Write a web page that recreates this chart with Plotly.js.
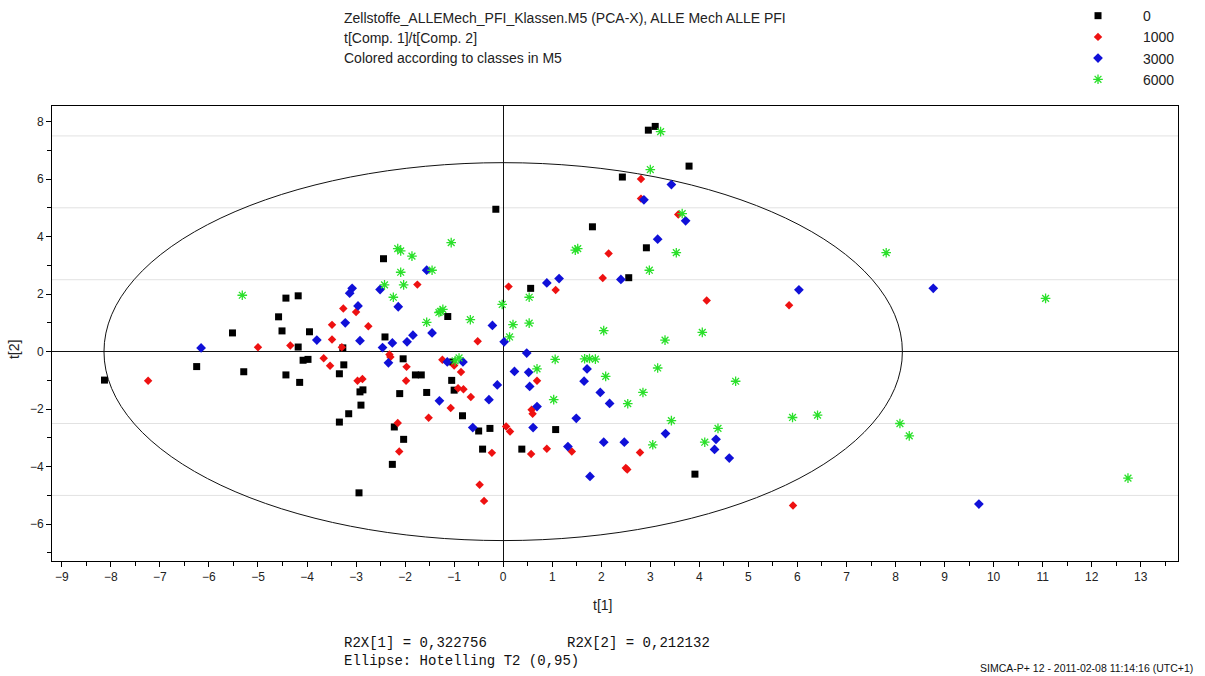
<!DOCTYPE html>
<html>
<head>
<meta charset="utf-8">
<script src="https://cdn.plot.ly/plotly-3.0.1.min.js"></script>
<style>
  html, body { margin: 0; padding: 0; background: #ffffff; }
  #chart { width: 1205px; height: 676px; }
</style>
</head>
<body>
<div id="chart"></div>
<script>
// PCA score plot t[1] vs t[2], observations grouped by PFI class

const classNames = ['0', '1000', '3000', '6000'];

// class 0
const t1_c0 = [-5.52, -4.43, -4.18, -4.58, -4.51, -3.95, -4.18, -3.27, -6.25, -5.29, -4.08, -3.98, -3.25, -4.43, -4.15, -3.34, -8.13, -3.15, -3.34, -0.15, 2.43, 1.82, -2.44, -1.13, -2.41, 0.56, 2.56, 2.96, 3.10, 3.79, 2.92, -2.04, -1.79, -1.67, -2.92, -2.86, -2.90, -2.11, -1.56, -1.03, -1.05, -1.00, -0.83, -2.22, -2.03, -2.26, -2.94, -0.50, -0.27, -0.42, 0.38, 1.07, 3.91];
const t2_c0 = [0.65, 1.86, 1.94, 1.21, 0.72, 0.69, 0.16, 0.13, -0.52, -0.70, -0.30, -0.27, -0.46, -0.81, -1.07, -0.77, -0.99, -2.16, -2.45, 4.95, 6.07, 4.34, 3.23, 1.22, 0.51, 2.20, 2.57, 7.70, 7.83, 6.45, 3.61, -0.25, -0.81, -0.81, -1.40, -1.33, -1.86, -1.46, -1.42, -0.36, -1.00, -1.34, -2.23, -2.62, -3.05, -3.92, -4.91, -2.76, -2.67, -3.39, -3.39, -2.71, -4.26];

// class 1000
const t1_c1000 = [-3.26, -3.49, -3.49, -5.00, -4.34, -3.29, -7.24, -3.66, -3.53, 2.15, -1.75, -3.00, -2.75, 0.11, 1.07, 2.03, -0.52, 2.81, 2.81, 3.57, 4.15, 5.83, -2.32, -2.30, -1.97, -1.98, -2.97, -2.87, -1.24, -1.00, -0.86, -0.92, -0.81, -0.66, -1.07, -1.52, -2.15, -2.12, -0.23, -0.48, -0.39, 0.06, 0.14, 0.57, 0.89, 1.40, 2.50, 2.53, 0.58, 0.60, 0.69, 2.79, 5.91];
const t2_c1000 = [1.50, 0.93, 0.42, 0.15, 0.21, 0.15, -1.01, -0.23, -0.49, 3.41, 2.33, 1.38, 0.88, 2.26, 2.14, 2.56, 0.36, 6.00, 5.32, 4.77, 1.78, 1.61, -0.10, -0.19, -0.53, -1.01, -1.01, -0.95, -0.28, -0.48, -0.71, -1.27, -1.31, -1.58, -1.96, -2.30, -2.48, -3.47, -3.52, -4.63, -5.19, -2.60, -2.78, -3.56, -3.38, -3.47, -4.05, -4.10, -2.02, -2.16, -1.01, -3.51, -5.35];

// class 3000
const t1_c3000 = [-3.08, -3.13, -3.22, -3.80, -6.16, -1.56, -2.51, -2.96, -2.14, -0.22, -1.84, -1.45, 0.89, 1.14, 2.40, -2.92, -2.26, -1.96, 0.02, -2.46, -2.34, -1.14, -0.82, -1.30, -0.29, -0.12, -0.62, 1.32, 1.77, 2.05, 2.47, 0.61, 0.69, 1.49, 1.98, 2.17, 0.23, 0.52, 0.54, 0.48, 1.71, 1.65, 3.43, 2.87, 3.72, 3.15, 6.03, 8.77, 3.31, 4.34, 4.31, 4.61, 9.70];
const t2_c3000 = [2.20, 2.03, 1.00, 0.40, 0.13, 2.83, 2.16, 1.59, 1.56, 0.91, 0.57, 0.65, 2.39, 2.54, 2.51, 0.38, 0.30, 0.34, 0.34, 0.14, -0.39, -0.36, -0.36, -1.71, -1.67, -1.16, -2.64, -3.30, -4.34, -3.15, -3.15, -2.64, -1.91, -2.32, -1.42, -1.80, -0.69, -0.72, -1.21, -0.05, -0.60, -1.03, 5.81, 5.28, 4.55, 3.91, 2.15, 2.20, -2.85, -3.05, -3.40, -3.70, -5.30];

// class 6000
const t1_c6000 = [-5.32, -1.06, -2.15, -2.09, -1.86, 1.47, 1.52, -1.45, -2.09, -2.42, -2.03, -2.24, -1.28, -1.23, -1.31, -0.67, -0.02, -1.56, 0.53, 0.20, 0.53, 0.13, 2.05, 3.21, 3.00, 3.65, 3.53, 7.81, 2.98, 4.06, 3.30, 11.06, -0.90, -0.98, 1.03, 2.54, 0.69, 1.06, 1.66, 1.76, 1.88, 2.09, 3.15, 4.74, 2.85, 3.43, 5.90, 6.41, 8.09, 8.28, 3.05, 4.38, 4.11, 12.74];
const t2_c6000 = [1.96, 3.79, 3.58, 3.50, 3.32, 3.53, 3.58, 2.83, 2.76, 2.32, 2.32, 1.89, 1.40, 1.47, 1.36, 1.11, 1.64, 1.02, 1.89, 0.94, 0.99, 0.51, 0.73, 7.65, 6.33, 4.80, 3.44, 3.44, 2.83, 0.67, 0.40, 1.85, -0.22, -0.32, -1.67, -1.81, -0.60, -0.27, -0.25, -0.24, -0.26, -0.86, -0.57, -1.03, -1.42, -2.40, -2.29, -2.21, -2.50, -2.93, -3.24, -2.67, -3.15, -4.40];

// Hotelling T2 (0.95) ellipse semi-axes in score units
const ellipseT1 = 8.14;
const ellipseT2 = 6.57;

const explained = { r2x1: '0,322756', r2x2: '0,212132' };

const markerStyles = [
  { color: '#000000', symbol: 'square', size: 7 },
  { color: '#ee1111', symbol: 'diamond', size: 6.5 },
  { color: '#1010d8', symbol: 'diamond', size: 7.5 },
  { color: '#2ae02a', symbol: 'asterisk-open', size: 8 }
];

const seriesX = [t1_c0, t1_c1000, t1_c3000, t1_c6000];
const seriesY = [t2_c0, t2_c1000, t2_c3000, t2_c6000];

const traces = classNames.map((name, i) => {
  const st = markerStyles[i];
  const marker = { color: st.color, symbol: st.symbol, size: st.size };
  marker.line = st.symbol === 'asterisk-open'
    ? { color: st.color, width: 1.3 }
    : { width: 0 };
  return {
    type: 'scatter', mode: 'markers', name: name,
    x: seriesX[i], y: seriesY[i], marker: marker,
    hoverinfo: 'x+y+name'
  };
});

const baseFont = { family: 'Liberation Sans, Arial, sans-serif', size: 12, color: '#222' };
const monoFont = { family: 'Liberation Mono, DejaVu Sans Mono, monospace', size: 14, color: '#111' };

// light horizontal reference lines every 2.5 score units
const gridLevels = [-5, -2.5, 2.5, 5, 7.5];
const shapes = gridLevels.map(v => ({
  type: 'line', layer: 'below', xref: 'paper', x0: 0, x1: 1, yref: 'y', y0: v, y1: v,
  line: { color: '#e2e2e2', width: 1 }
}));
shapes.push({
  type: 'circle', layer: 'between', xref: 'x', yref: 'y',
  x0: -ellipseT1, x1: ellipseT1, y0: -ellipseT2, y1: ellipseT2,
  line: { color: '#111', width: 1 }, fillcolor: 'rgba(0,0,0,0)'
});

function note(text, x, y, opts) {
  return Object.assign({
    text: text, xref: 'paper', yref: 'paper', x: x, y: y,
    xanchor: 'left', yanchor: 'middle', showarrow: false,
    font: Object.assign({}, baseFont, { size: 14 })
  }, opts || {});
}

const annotations = [
  note('Zellstoffe_ALLEMech_PFI_Klassen.M5 (PCA-X), ALLE Mech ALLE PFI', 0.2575, 1.1934),
  note('t[Comp. 1]/t[Comp. 2]', 0.2575, 1.1495),
  note('Colored according to classes in M5', 0.2575, 1.1055),
  note('t[1]', 0.4893, -0.0967, { xanchor: 'center' }),
  note('t[2]', -0.0337, 0.4637, { xanchor: 'center', textangle: -90 }),
  note('R2X[1] = ' + explained.r2x1, 0.2575, -0.1802, { font: monoFont }),
  note('R2X[2] = ' + explained.r2x2, 0.4556, -0.1802, { font: monoFont }),
  note('Ellipse: Hotelling T2 (0,95)', 0.2575, -0.2198, { font: monoFont }),
  note('SIMCA-P+ 12 - 2011-02-08 11:14:16 (UTC+1)', 1.0151, -0.2352,
    { xanchor: 'right', font: Object.assign({}, baseFont, { size: 10.5, color: '#111' }) })
];

const axisCommon = {
  showgrid: false,
  showline: true, mirror: true, linecolor: '#000', linewidth: 1,
  zeroline: true, zerolinecolor: '#111', zerolinewidth: 1,
  ticks: 'outside', ticklen: 5, tickcolor: '#000', tickwidth: 1,
  tickfont: baseFont, fixedrange: true
};

const layout = {
  width: 1205, height: 676,
  margin: { l: 52, r: 27, t: 106, b: 115, pad: 0, autoexpand: false },
  paper_bgcolor: '#ffffff', plot_bgcolor: '#ffffff',
  font: baseFont,
  showlegend: true,
  legend: {
    x: 0.889, xanchor: 'left', y: 1.2328, yanchor: 'top',
    font: Object.assign({}, baseFont, { size: 14 }),
    itemwidth: 80, bgcolor: 'rgba(0,0,0,0)', tracegroupgap: 0
  },
  xaxis: Object.assign({}, axisCommon, {
    range: [-9.2, 13.76], tick0: 0, dtick: 1,
    minor: { dtick: 0.5, ticks: 'outside', ticklen: 4, tickcolor: '#000', showgrid: false }
  }),
  yaxis: Object.assign({}, axisCommon, {
    range: [-7.28, 8.54], tick0: 0, dtick: 2,
    minor: { dtick: 1, ticks: 'outside', ticklen: 4, tickcolor: '#000', showgrid: false }
  }),
  shapes: shapes,
  annotations: annotations
};

Plotly.newPlot('chart', traces, layout, { displayModeBar: false, staticPlot: true });
</script>
</body>
</html>
